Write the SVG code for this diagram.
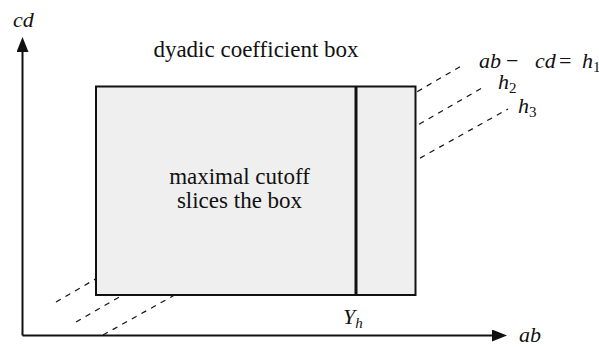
<svg xmlns="http://www.w3.org/2000/svg" width="599" height="347" viewBox="0 0 599 347">
<style>
.tx { font-size: 22px; fill: #111; }
.label { font-size: 23px; }
.it { font-style: italic; }
.sub { font-size: 15px; }
.axis { stroke: #111; stroke-width: 2; fill: none; }
.level { stroke: #111; stroke-width: 1.2; stroke-dasharray: 5.5 5.5; fill: none; }
.box { fill: #efefef; stroke: #111; stroke-width: 2; }
.cut { stroke: #111; stroke-width: 3; }
</style>
<defs>
<marker id="arrow" markerUnits="userSpaceOnUse" markerWidth="16" markerHeight="12" refX="2" refY="6" orient="auto">
<path d="M0,0 L15,6 L0,12 Z" fill="#111"/>
</marker>
</defs>
<g id="connectors">
<line class="level" x1="56" y1="302" x2="463" y2="65"/>
<line class="level" x1="76" y1="322" x2="482" y2="88"/>
<line class="level" x1="103" y1="335" x2="508" y2="109"/>
<line class="axis" x1="22.5" y1="335.5" x2="494" y2="335.5" marker-end="url(#arrow)"/>
<line class="axis" x1="22.5" y1="335.5" x2="22.5" y2="50" marker-end="url(#arrow)"/>
</g>
<g id="box">
<rect class="box" x="96" y="86.5" width="319.5" height="208.5"/>
<line class="cut" x1="356" y1="86.5" x2="356" y2="295"/>
<text class="tx label" font-family="'Liberation Serif', serif" x="239.5" y="184" text-anchor="middle">maximal cutoff</text>
<text class="tx label" font-family="'Liberation Serif', serif" x="239.5" y="208" text-anchor="middle">slices the box</text>
</g>
<g id="title">
<text class="tx label" font-family="'Liberation Serif', serif" x="256" y="57" text-anchor="middle">dyadic coefficient box</text>
</g>
<g id="axis-labels">
<text class="tx it" font-family="'Liberation Serif', serif" x="13" y="27">cd</text>
<text class="tx it" font-family="'Liberation Serif', serif" x="519" y="342">ab</text>
<text class="tx" font-family="'Liberation Serif', serif" x="343" y="324"><tspan class="it">Y</tspan><tspan class="it sub" dy="4">h</tspan></text>
</g>
<g id="level-labels">
<text class="tx" font-family="'Liberation Serif', serif" x="479" y="68"><tspan class="it">ab</tspan><tspan x="506">−</tspan><tspan class="it" x="535">cd</tspan><tspan x="559">=</tspan><tspan class="it" x="582">h</tspan><tspan class="sub" x="593" dy="4">1</tspan></text>
<text class="tx" font-family="'Liberation Serif', serif" x="498" y="89"><tspan class="it">h</tspan><tspan class="sub" dy="4">2</tspan></text>
<text class="tx" font-family="'Liberation Serif', serif" x="518" y="113"><tspan class="it">h</tspan><tspan class="sub" dy="4">3</tspan></text>
</g>
</svg>
